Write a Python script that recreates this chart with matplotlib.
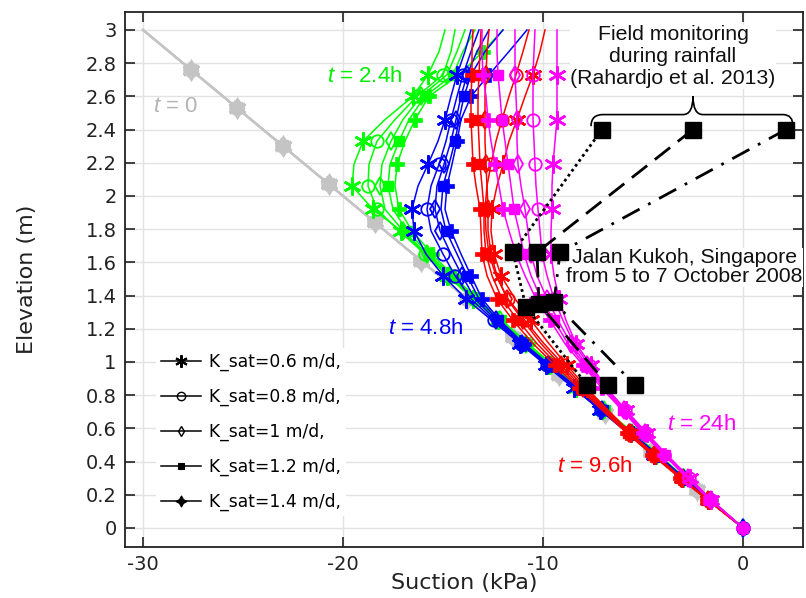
import matplotlib
matplotlib.use('Agg')
import matplotlib.pyplot as plt
from matplotlib.lines import Line2D
from matplotlib.path import Path
from matplotlib.patches import PathPatch
from matplotlib.ticker import FuncFormatter

plt.rcParams['mathtext.fontset'] = 'custom'
plt.rcParams['mathtext.rm'] = 'Liberation Sans'
plt.rcParams['mathtext.it'] = 'Liberation Sans:italic'
plt.rcParams['axes.unicode_minus'] = False

# ---------------- data ----------------
elevation = [3.0, 2.87, 2.73, 2.6, 2.46, 2.33, 2.19, 2.06, 1.92, 1.79, 1.65, 1.52,
             1.38, 1.25, 1.11, 0.98, 0.84, 0.71, 0.57, 0.44, 0.3, 0.17, 0.0]

# t = 0 (initial hydrostatic profile)
gray_elev = [3.0, 2.76, 2.53, 2.30, 2.07, 1.84, 1.61, 1.38, 1.15, 0.92, 0.69, 0.46, 0.23, 0.0]
gray_suction = [-30.0, -27.6, -25.3, -23.0, -20.7, -18.4, -16.1, -13.8, -11.5, -9.2, -6.9, -4.6, -2.3, 0.0]

# t = 2.4 h
green_k06 = [-14.9, -15.2, -15.75, -16.5, -17.9, -19.0, -19.45, -19.55, -18.5, -17.1, -15.9, -14.8,
             -13.5, -12.25, -10.95, -9.7, -8.35, -7.05, -5.65, -4.35, -3.0, -1.7, 0.0]
green_k08 = [-14.4, -14.6, -15.0, -16.3, -17.4, -18.3, -18.7, -18.75, -18.3, -17.2, -15.9, -14.75,
             -13.45, -12.2, -10.9, -9.65, -8.3, -7.0, -5.6, -4.3, -2.95, -1.7, 0.0]
green_k10 = [-13.9, -14.3, -14.8, -16.1, -17.0, -17.6, -18.05, -18.15, -17.9, -17.0, -15.8, -14.7,
             -13.4, -12.15, -10.85, -9.6, -8.25, -6.95, -5.55, -4.3, -2.95, -1.65, 0.0]
green_k12 = [-13.4, -14.0, -14.5, -15.9, -16.7, -17.2, -17.65, -17.75, -17.5, -16.8, -15.7, -14.6,
             -13.35, -12.1, -10.8, -9.55, -8.2, -6.9, -5.5, -4.25, -2.9, -1.65, 0.0]
green_k14 = [-12.0, -13.0, -14.2, -15.7, -16.4, -16.9, -17.3, -17.4, -17.2, -16.55, -15.55, -14.5,
             -13.3, -12.05, -10.75, -9.5, -8.15, -6.85, -5.45, -4.2, -2.9, -1.6, 0.0]

# t = 4.8 h
blue_k06 = [-13.6, -13.9, -14.3, -14.6, -14.9, -15.25, -15.75, -16.25, -16.55, -16.45, -15.85, -15.0,
            -13.85, -12.55, -11.15, -9.85, -8.45, -7.15, -5.75, -4.45, -3.05, -1.75, 0.0]
blue_k08 = [-13.2, -13.6, -14.0, -14.3, -14.6, -14.85, -15.2, -15.6, -15.8, -15.6, -15.0, -14.4,
            -13.6, -12.45, -11.1, -9.8, -8.4, -7.1, -5.7, -4.4, -3.0, -1.75, 0.0]
blue_k10 = [-12.7, -13.3, -13.8, -14.1, -14.35, -14.6, -14.95, -15.3, -15.4, -15.15, -14.6, -14.05,
            -13.4, -12.35, -11.05, -9.75, -8.35, -7.05, -5.65, -4.35, -3.0, -1.7, 0.0]
blue_k12 = [-12.0, -12.9, -13.6, -13.95, -14.2, -14.4, -14.7, -15.0, -15.1, -14.85, -14.3, -13.8,
            -13.2, -12.25, -11.0, -9.7, -8.3, -7.0, -5.6, -4.3, -2.95, -1.7, 0.0]
blue_k14 = [-10.8, -11.7, -12.7, -13.6, -14.1, -14.3, -14.55, -14.8, -14.9, -14.6, -14.1, -13.6,
            -13.05, -12.15, -10.95, -9.65, -8.25, -6.95, -5.55, -4.25, -2.95, -1.65, 0.0]

# t = 9.6 h
red_k06 = [-9.9, -10.15, -10.5, -10.9, -11.3, -11.7, -12.0, -12.3, -12.55, -12.6, -12.45, -12.1,
           -11.4, -10.6, -9.7, -8.8, -7.8, -6.75, -5.6, -4.4, -3.05, -1.75, 0.0]
red_k08 = [-10.7, -11.0, -11.35, -11.7, -12.05, -12.35, -12.6, -12.8, -12.9, -12.85, -12.7, -12.35,
           -11.75, -10.9, -9.95, -8.95, -7.9, -6.8, -5.65, -4.4, -3.05, -1.75, 0.0]
red_k10 = [-12.7, -12.8, -12.85, -12.9, -12.9, -12.9, -12.85, -12.8, -12.75, -12.75, -12.6, -12.3,
           -11.8, -11.0, -10.1, -9.1, -8.0, -6.85, -5.7, -4.45, -3.1, -1.75, 0.0]
red_k12 = [-13.1, -13.15, -13.2, -13.25, -13.25, -13.2, -13.15, -13.05, -12.95, -12.95, -12.85, -12.55,
           -12.05, -11.25, -10.3, -9.25, -8.1, -6.95, -5.75, -4.5, -3.1, -1.8, 0.0]
red_k14 = [-13.5, -13.55, -13.55, -13.6, -13.6, -13.55, -13.5, -13.35, -13.15, -13.1, -13.05, -12.8,
           -12.3, -11.5, -10.5, -9.4, -8.2, -7.05, -5.8, -4.55, -3.15, -1.8, 0.0]

# t = 24 h
magenta_k06 = [-9.3, -9.3, -9.3, -9.3, -9.3, -9.4, -9.5, -9.55, -9.55, -9.6, -9.6, -9.45,
               -9.2, -8.85, -8.35, -7.6, -6.8, -5.85, -4.8, -3.8, -2.65, -1.6, 0.0]
magenta_k08 = [-10.4, -10.45, -10.5, -10.5, -10.5, -10.45, -10.4, -10.35, -10.25, -10.15, -10.05, -9.8,
               -9.45, -9.0, -8.45, -7.7, -6.85, -5.9, -4.85, -3.85, -2.7, -1.6, 0.0]
magenta_k10 = [-11.4, -11.4, -11.4, -11.35, -11.3, -11.3, -11.25, -11.1, -10.9, -10.75, -10.6, -10.3,
               -9.8, -9.25, -8.6, -7.8, -6.9, -5.95, -4.9, -3.9, -2.75, -1.6, 0.0]
magenta_k12 = [-12.3, -12.3, -12.25, -12.15, -12.05, -11.9, -11.75, -11.6, -11.45, -11.2, -10.95, -10.6,
               -10.1, -9.45, -8.75, -7.9, -6.95, -6.0, -4.95, -3.9, -2.75, -1.65, 0.0]
magenta_k14 = [-13.05, -13.05, -13.0, -12.85, -12.75, -12.6, -12.4, -12.2, -12.0, -11.7, -11.35, -10.9,
               -10.35, -9.65, -8.9, -8.0, -7.05, -6.05, -5.0, -3.95, -2.8, -1.65, 0.0]

# Field monitoring (Rahardjo et al. 2013)
field1_elev = [2.40, 1.66, 1.33, 0.86]
field1_suction = [-7.05, -11.5, -10.85, -7.8]
field2_elev = [2.40, 1.66, 1.35, 0.86]
field2_suction = [-2.5, -10.3, -10.2, -6.75]
field3_elev = [2.40, 1.66, 1.36, 0.86]
field3_suction = [2.15, -9.15, -9.45, -5.4]

ksat_labels = ['K_sat=0.6 m/d,', 'K_sat=0.8 m/d,', 'K_sat=1 m/d,', 'K_sat=1.2 m/d,', 'K_sat=1.4 m/d,']
x_ticks = [-30, -20, -10, 0]
y_ticks = [0, 0.2, 0.4, 0.6, 0.8, 1, 1.2, 1.4, 1.6, 1.8, 2, 2.2, 2.4, 2.6, 2.8, 3]

# ---------------- styles ----------------
mstyles = [
    dict(marker=(6, 2, 0), ms=13, mew=1.8, filled=True),
    dict(marker='o', ms=9, mew=1.3, filled=False),
    dict(marker='d', ms=9, mew=1.3, filled=False),
    dict(marker='s', ms=7, mew=1.0, filled=True),
    dict(marker='P', ms=9.5, mew=0.5, filled=True),
]
legend_markers = [(6, 2, 0), 'o', 'd', 's', (4, 1, 0)]
legend_ms = [9, 6, 5.5, 4.5, 8]
legend_mew = [1.5, 1.0, 1.0, 0.8, 0.8]
legend_fill = [True, False, False, True, True]

fig = plt.figure(figsize=(8.06, 5.98), dpi=100)
ax = fig.add_axes([125 / 806, 51 / 598, 678 / 806, 535 / 598])

step = (0.0515, 0.0515)

# t = 0
for st in mstyles:
    ax.plot(gray_suction, gray_elev, color='#c4c4c4', lw=1.5, marker=st['marker'],
            ms=st['ms'], mew=st['mew'] + 0.6, mec='#c4c4c4',
            mfc='#c4c4c4', markevery=slice(1, -1), zorder=2)

families = [
    ('#00ff00', [green_k06, green_k08, green_k10, green_k12, green_k14], 3),
    ('#0000ff', [blue_k06, blue_k08, blue_k10, blue_k12, blue_k14], 4),
    ('#ff0000', [red_k06, red_k08, red_k10, red_k12, red_k14], 5),
    ('#ff00ff', [magenta_k06, magenta_k08, magenta_k10, magenta_k12, magenta_k14], 6),
]
for color, series_list, z in families:
    for s, st in zip(series_list, mstyles):
        ax.plot(s, elevation, color=color, lw=1.1, marker=st['marker'], ms=st['ms'],
                mew=st['mew'], mec=color, mfc=color if st['filled'] else 'none',
                markevery=step, zorder=z)

# field data
for sx, ey, ls in [(field1_suction, field1_elev, (0, (1, 1.2))),
                   (field2_suction, field2_elev, (0, (7, 3.5))),
                   (field3_suction, field3_elev, (0, (7, 3.5, 1, 3.5)))]:
    ax.plot(sx, ey, color='black', lw=2.0, ls=ls, zorder=9)
    ax.plot(sx, ey, ls='none', marker='s', ms=12, mfc='black', mec='black', zorder=10)

# brace
verts = [(-7.6, 2.42), (-7.6, 2.49), (-7.0, 2.49), (-3.0, 2.49),
         (-2.5, 2.49), (-2.5, 2.60), (-2.5, 2.49), (-2.0, 2.49),
         (2.0, 2.49), (2.5, 2.49), (2.5, 2.42)]
codes = [Path.MOVETO, Path.CURVE3, Path.CURVE3, Path.LINETO,
         Path.CURVE3, Path.CURVE3, Path.CURVE3, Path.CURVE3,
         Path.LINETO, Path.CURVE3, Path.CURVE3]
ax.add_patch(PathPatch(Path(verts, codes), fill=False, lw=1.2, ec='black', zorder=9))

# texts
tfont = dict(family='Liberation Sans', fontsize=16)
ax.text(-29.5, 2.54, r'$t$ = 0', color='#b4b4b4', ha='left', va='center', zorder=8, **tfont)
ax.text(-20.8, 2.72, r'$t$ = 2.4h', color='#00ee00', ha='left', va='center', zorder=8, **tfont)
ax.text(-17.75, 1.2, r'$t$ = 4.8h', color='#0000ff', ha='left', va='center', zorder=8, **tfont)
ax.text(-9.3, 0.37, r'$t$ = 9.6h', color='#ff0000', ha='left', va='center', zorder=8, **tfont)
ax.text(-3.8, 0.62, r'$t$ = 24h', color='#ff00ff', ha='left', va='center', zorder=8, **tfont)

afont = dict(family='Liberation Sans', fontsize=15.3)
ax.text(-3.5, 2.837, 'Field monitoring\nduring rainfall\n(Rahardjo et al. 2013)',
        ha='center', va='center', multialignment='center', color='#111111',
        bbox=dict(facecolor='white', edgecolor='none', pad=0.5), zorder=8, **afont)
ax.text(-2.93, 1.569, 'Jalan Kukoh, Singapore\nfrom 5 to 7 October 2008',
        ha='center', va='center', multialignment='center', linespacing=1.0,
        color='#111111', bbox=dict(facecolor='white', edgecolor='none', pad=0.5),
        zorder=8, **afont)

# legend
handles = []
for mk, lms, mw, fl in zip(legend_markers, legend_ms, legend_mew, legend_fill):
    handles.append(Line2D([], [], color='black', lw=1.1, marker=mk, ms=lms,
                          mew=mw, mec='black', mfc='black' if fl else 'none'))
leg = ax.legend(handles, ksat_labels, loc='center left', bbox_to_anchor=(0.046, 0.215),
                borderaxespad=0, frameon=True, fancybox=False, framealpha=1,
                edgecolor='none', facecolor='white', fontsize=12.3, handlelength=2.3,
                handletextpad=0.5, labelspacing=0.98, borderpad=0.3)
leg.set_zorder(12)

# axes
ax.set_xlim(-30.9, 3.0)
ax.set_ylim(-0.115, 3.108)
ax.set_xticks(x_ticks)
ax.set_yticks(y_ticks)
ax.yaxis.set_major_formatter(FuncFormatter(lambda v, p: '%g' % round(v, 2)))
ax.grid(True, color='#e2e2e2', lw=1.0, zorder=0)
ax.set_axisbelow(True)
ax.tick_params(direction='in', top=True, right=True, length=7, width=1.2,
               labelsize=14, pad=6, colors='#222222')
for sp in ax.spines.values():
    sp.set_color('#222222')
    sp.set_linewidth(1.3)

ax.set_xlabel('Suction (kPa)', fontsize=16, color='#222222')
ax.set_ylabel('Elevation (m)', fontsize=16, color='#222222')
ax.xaxis.set_label_coords(0.5, -0.048)
ax.yaxis.set_label_coords(-0.13, 0.5)

fig.savefig('out.png', dpi=100)
